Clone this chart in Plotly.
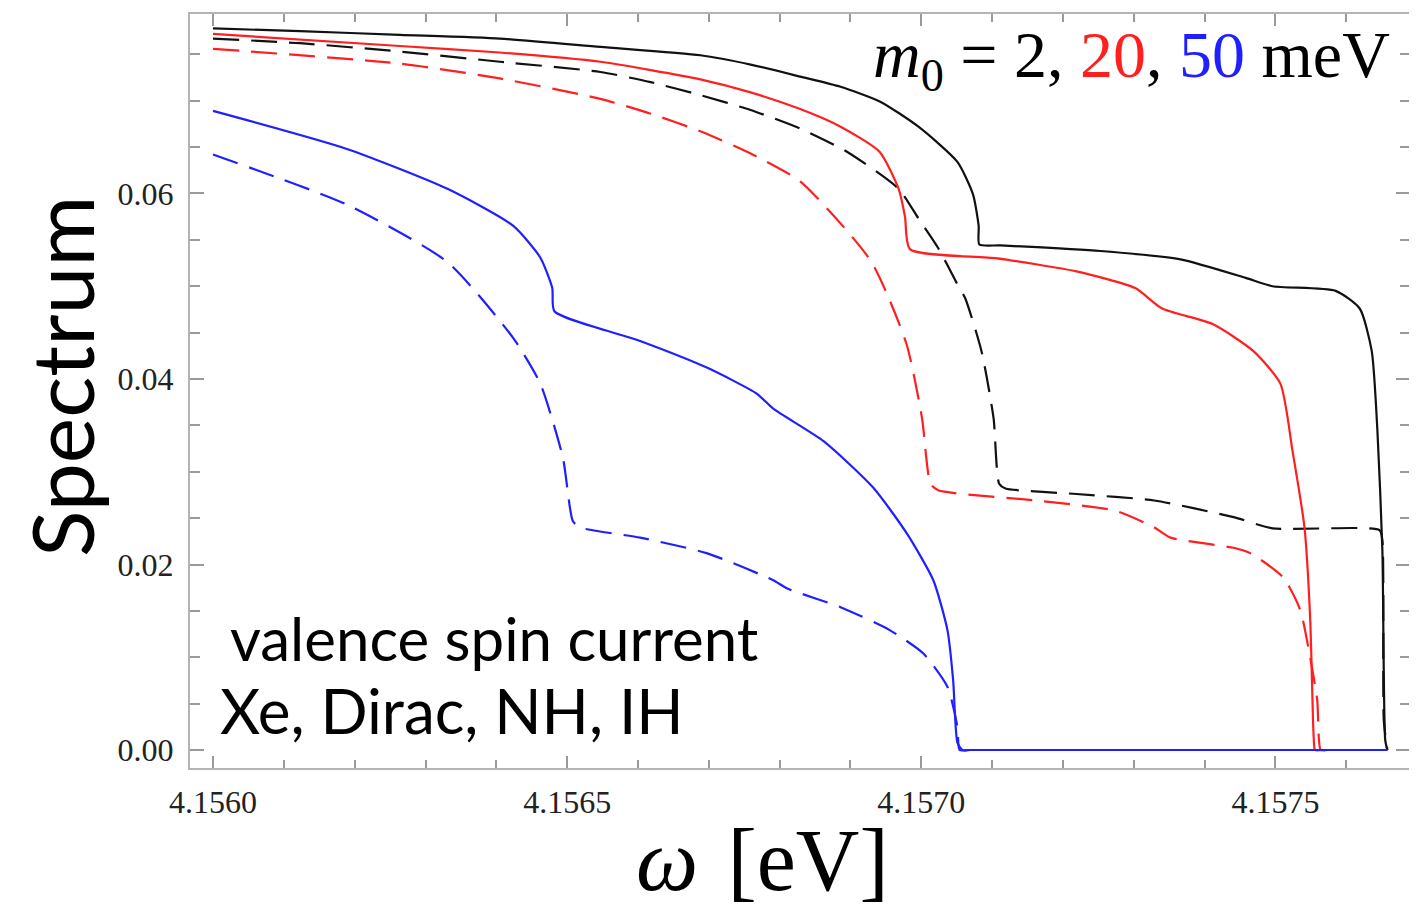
import plotly.graph_objects as go

# ---- data (omega in eV, spectrum in arbitrary units) ----
black_solid_x = [4.156000, 4.156123, 4.156264, 4.156405, 4.156547, 4.156688, 4.156759, 4.156829,
                 4.156886, 4.156942, 4.156996, 4.157051, 4.157073, 4.157081, 4.157082, 4.157112,
                 4.157253, 4.157366, 4.157458, 4.157496, 4.157585, 4.157619, 4.157636, 4.157644,
                 4.157651, 4.157655, 4.157658]
black_solid_y = [0.0778, 0.0775, 0.0771, 0.0767, 0.0758, 0.0749, 0.0739, 0.0726,
                 0.0715, 0.0699, 0.0672, 0.0634, 0.0599, 0.0565, 0.0545, 0.0544,
                 0.0538, 0.0529, 0.0509, 0.0500, 0.0495, 0.0476, 0.0430, 0.0344,
                 0.0215, 0.0011, 0.0]

black_dash_x = [4.156000, 4.156123, 4.156264, 4.156405, 4.156547, 4.156618, 4.156688, 4.156759,
                4.156829, 4.156895, 4.156968, 4.156996, 4.157024, 4.157051, 4.157062, 4.157085,
                4.157102, 4.157110, 4.157119, 4.157219, 4.157329, 4.157441, 4.157496, 4.157647,
                4.157651, 4.157653, 4.157658]
black_dash_y = [0.0767, 0.0762, 0.0753, 0.0742, 0.0731, 0.0720, 0.0706, 0.0690,
                0.0670, 0.0645, 0.0605, 0.0573, 0.0541, 0.0502, 0.0487, 0.0430,
                0.0358, 0.0287, 0.0282, 0.0276, 0.0269, 0.0251, 0.0239, 0.0237,
                0.0226, 0.0032, 0.0]

red_solid_x = [4.156000, 4.156264, 4.156405, 4.156547, 4.156618, 4.156688, 4.156759, 4.156829,
               4.156886, 4.156941, 4.156968, 4.156977, 4.156984, 4.157107, 4.157219, 4.157302,
               4.157340, 4.157412, 4.157469, 4.157507, 4.157524, 4.157541, 4.157549, 4.157554,
               4.157556, 4.157566, 4.157658]
red_solid_y = [0.0772, 0.0759, 0.0752, 0.0742, 0.0733, 0.0723, 0.0709, 0.0691,
               0.0672, 0.0645, 0.0605, 0.0575, 0.0540, 0.0530, 0.0516, 0.0498,
               0.0476, 0.0459, 0.0430, 0.0395, 0.0323, 0.0240, 0.0143, 0.0014,
               0.0, 0.0, 0.0]

red_dash_x = [4.156000, 4.156264, 4.156405, 4.156547, 4.156618, 4.156688, 4.156759, 4.156829,
              4.156929, 4.156979, 4.157001, 4.157013, 4.157024, 4.157162, 4.157274, 4.157329,
              4.157352, 4.157441, 4.157465, 4.157511, 4.157535, 4.157549, 4.157559, 4.157564,
              4.157574, 4.157658]
red_dash_y = [0.0756, 0.0740, 0.0724, 0.0702, 0.0686, 0.0667, 0.0643, 0.0613,
              0.0527, 0.0438, 0.0358, 0.0287, 0.0280, 0.0269, 0.0258, 0.0240,
              0.0229, 0.0218, 0.0212, 0.0186, 0.0151, 0.0100, 0.0054, 0.0,
              0.0, 0.0]

blue_solid_x = [4.156000, 4.156189, 4.156331, 4.156424, 4.156462, 4.156479, 4.156482, 4.156603,
                4.156698, 4.156768, 4.156791, 4.156862, 4.156932, 4.156980, 4.157017, 4.157037,
                4.157045, 4.157051, 4.157058, 4.157070, 4.157658]
blue_solid_y = [0.0689, 0.0648, 0.0605, 0.0565, 0.0531, 0.0498, 0.0473, 0.0441,
                0.0412, 0.0384, 0.0368, 0.0333, 0.0283, 0.0233, 0.0183, 0.0129,
                0.0075, 0.0008, 0.0, 0.0, 0.0]

blue_dash_x = [4.156000, 4.156189, 4.156331, 4.156424, 4.156462, 4.156494, 4.156508, 4.156518,
               4.156603, 4.156698, 4.156791, 4.156811, 4.156886, 4.156956, 4.157003, 4.157037,
               4.157051, 4.157054, 4.157066]
blue_dash_y = [0.0642, 0.0588, 0.0526, 0.0444, 0.0395, 0.0315, 0.0247, 0.0240,
               0.0229, 0.0212, 0.0183, 0.0174, 0.0154, 0.0129, 0.0104, 0.0068,
               0.0025, 0.0, 0.0]

x_tick_vals = [4.1560, 4.1565, 4.1570, 4.1575]
x_tick_text = ["4.1560", "4.1565", "4.1570", "4.1575"]
y_tick_vals = [0.00, 0.02, 0.04, 0.06]
y_tick_text = ["0.00", "0.02", "0.04", "0.06"]

BLACK = "#111111"
RED = "#ff1f1f"
BLUE = "#1f1fff"
DASH = "26px,12px"
LW = 2.2

series = [
    (black_dash_x, black_dash_y, BLACK, DASH),
    (red_dash_x, red_dash_y, RED, DASH),
    (blue_dash_x, blue_dash_y, BLUE, DASH),
    (black_solid_x, black_solid_y, BLACK, "solid"),
    (red_solid_x, red_solid_y, RED, "solid"),
    (blue_solid_x, blue_solid_y, BLUE, "solid"),
]

fig = go.Figure()
for xs, ys, col, dash in series:
    fig.add_trace(go.Scatter(x=xs, y=ys, mode="lines",
                             line=dict(color=col, width=LW, dash=dash,
                                       shape="spline", smoothing=0.6),
                             showlegend=False, hoverinfo="skip"))

FRAME = "#b4b4b4"
TICK = "#9a9a9a"
tickfont = dict(family="Liberation Serif", size=32, color="#222222")

fig.update_xaxes(
    range=[4.1559675, 4.15769], showgrid=False, zeroline=False,
    showline=True, linecolor=FRAME, linewidth=2, mirror="ticks",
    ticks="inside", ticklen=12, tickwidth=1.5, tickcolor=TICK,
    tickvals=x_tick_vals, ticktext=x_tick_text, tickfont=tickfont,
    ticklabelstandoff=5,
    minor=dict(ticks="inside", ticklen=8, tickwidth=1.5, tickcolor=TICK,
               dtick=0.0001, tick0=4.1560, showgrid=False),
)
fig.update_yaxes(
    range=[-0.00194, 0.07935], showgrid=False, zeroline=False,
    showline=True, linecolor=FRAME, linewidth=2, mirror="ticks",
    ticks="inside", ticklen=14, tickwidth=1.5, tickcolor=TICK,
    tickvals=y_tick_vals, ticktext=y_tick_text, tickfont=tickfont,
    ticklabelstandoff=8,
    minor=dict(ticks="inside", ticklen=10, tickwidth=1.5, tickcolor=TICK,
               dtick=0.005, tick0=0, showgrid=False),
)

# page body has an 8px margin: size the figure so the plot frame lands where the reference has it
OFF = 8
W, H = 1417 - OFF, 921 - OFF
PL, PR, PT, PB = 190, 1410, 12, 768          # plot frame in page pixels
L, R, T, B = PL - OFF, 1417 - PR, PT - OFF, 921 - PB
pw, ph = PR - PL, PB - PT


def px_to_paper(px, py):
    return (px - PL) / pw, (PB - py) / ph


annots = []
ax, ay = px_to_paper(60, 376)
annots.append(dict(x=ax, y=ay, xref="paper", yref="paper", text="Spectrum", textangle=-90,
                   showarrow=False, xanchor="center", yanchor="middle",
                   font=dict(family="Lato", size=86, color="black")))
ax, ay = px_to_paper(762, 861)
annots.append(dict(x=ax, y=ay, xref="paper", yref="paper", text="<i>ω</i>\u2004[eV]",
                   showarrow=False, xanchor="center", yanchor="middle",
                   font=dict(family="Liberation Serif", size=88, color="black")))
ax, ay = px_to_paper(1392, 58)
annots.append(dict(x=ax, y=ay, xref="paper", yref="paper",
                   text=("<i>m</i><sub>0</sub> = 2, <span style='color:#ff1f1f'>20</span>, "
                         "<span style='color:#1f1fff'>50</span> meV"),
                   showarrow=False, xanchor="right", yanchor="middle",
                   font=dict(family="Liberation Serif", size=66, color="black")))
ax, ay = px_to_paper(228, 638)
annots.append(dict(x=ax, y=ay, xref="paper", yref="paper", text="valence spin current",
                   showarrow=False, xanchor="left", yanchor="middle",
                   font=dict(family="Lato", size=60, color="black")))
ax, ay = px_to_paper(218, 710)
annots.append(dict(x=ax, y=ay, xref="paper", yref="paper", text="Xe, Dirac, NH, IH",
                   showarrow=False, xanchor="left", yanchor="middle",
                   font=dict(family="Lato", size=62, color="black")))

fig.update_layout(
    width=W, height=H, autosize=False,
    margin=dict(l=L, r=R, t=T, b=B, pad=0),
    paper_bgcolor="white", plot_bgcolor="white",
    annotations=annots,
)

fig.write_html("out.html", config={"displayModeBar": False})
